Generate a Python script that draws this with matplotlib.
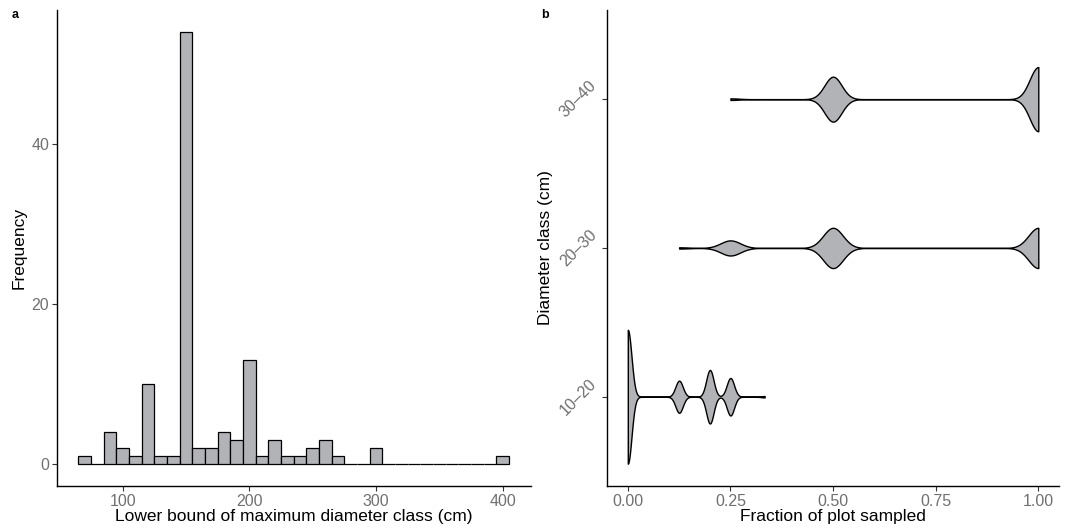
import matplotlib
matplotlib.use("Agg")
import matplotlib.pyplot as plt
import numpy as np

plt.rcParams['font.family'] = ['Liberation Sans', 'DejaVu Sans']

# panel a: histogram of lower bound of maximum diameter class (binwidth 10)
bin_centers = [70, 80, 90, 100, 110, 120, 130, 140, 150, 160, 170, 180,
               190, 200, 210, 220, 230, 240, 250, 260, 270, 280, 290, 300,
               310, 320, 330, 340, 350, 360, 370, 380, 390, 400]
freq = [1, 0, 4, 2, 1, 10, 1, 1, 54, 2, 2, 4,
        3, 13, 1, 3, 1, 1, 2, 3, 1, 0, 0, 2,
        0, 0, 0, 0, 0, 0, 0, 0, 0, 1]

# panel b: fraction of plot sampled per diameter class (value, count)
classes = ["10–20", "20–30", "30–40"]
frac_10_20 = [0.0, 0.125, 0.2, 0.25, 1/3]
n_10_20 = [100, 24, 40, 28, 1]
frac_20_30 = [0.125, 0.25, 0.5, 1.0]
n_20_30 = [1, 12, 32, 32]
frac_30_40 = [0.25, 0.5, 1.0]
n_30_40 = [1, 28, 40]
bandwidth = [0.009, 0.024, 0.021]

fill = "#b2b3b6"
txt_grey = "#707070"
tick_grey = "#333333"


def kde(vals, counts, bw, grid):
    vals = np.asarray(vals, dtype=float)
    w = np.asarray(counts, dtype=float)
    w = w / w.sum()
    d = (grid[:, None] - vals[None, :]) / bw
    return (w * np.exp(-0.5 * d ** 2)).sum(axis=1) / (bw * np.sqrt(2 * np.pi))


def style(ax):
    for s in ["top", "right"]:
        ax.spines[s].set_visible(False)
    for s in ["left", "bottom"]:
        ax.spines[s].set_linewidth(1.0)
        ax.spines[s].set_color("black")
    ax.tick_params(direction="out", length=3.5, width=0.8, color=tick_grey,
                   labelcolor=txt_grey, labelsize=11.5, pad=2)


fig = plt.figure(figsize=(10.65, 5.29), dpi=100)
ax1 = fig.add_axes([0.0533, 0.0813, 0.445, 0.899])
ax2 = fig.add_axes([0.5702, 0.0813, 0.424, 0.9])

# --- a
ax1.bar(bin_centers, freq, width=10, color=fill, edgecolor="black", linewidth=0.9)
ax1.set_xlim(48, 422)
ax1.set_ylim(-2.7, 56.7)
ax1.set_xticks([100, 200, 300, 400])
ax1.set_yticks([0, 20, 40])
ax1.set_xlabel("Lower bound of maximum diameter class (cm)", fontsize=12.5, labelpad=0)
ax1.set_ylabel("Frequency", fontsize=12.5, labelpad=3)
style(ax1)

# --- b
groups = [(frac_10_20, n_10_20), (frac_20_30, n_20_30), (frac_30_40, n_30_40)]
dens = []
for (vals, cnt), bw in zip(groups, bandwidth):
    grid = np.linspace(min(vals), max(vals), 512)
    dens.append((grid, kde(vals, cnt, bw, grid)))
dmax = max(d.max() for _, d in dens)
for i, (grid, d) in enumerate(dens):
    w = 0.45 * d / dmax
    ax2.fill_between(grid, i + 1 - w, i + 1 + w, facecolor=fill,
                     edgecolor="black", linewidth=1.0)
ax2.set_xlim(-0.05, 1.05)
ax2.set_ylim(0.4, 3.6)
ax2.set_xticks([0, 0.25, 0.5, 0.75, 1.0])
ax2.set_xticklabels(["0.00", "0.25", "0.50", "0.75", "1.00"])
ax2.set_yticks([1, 2, 3])
ax2.set_yticklabels(classes, rotation=45, ha="right", va="center")
ax2.set_xlabel("Fraction of plot sampled", fontsize=12.5, labelpad=0)
ax2.set_ylabel("Diameter class (cm)", fontsize=12.5, labelpad=3)
style(ax2)

fig.text(0.011, 0.972, "a", fontsize=9, fontweight="bold", va="center")
fig.text(0.508, 0.972, "b", fontsize=9, fontweight="bold", va="center")

fig.savefig("out.png", dpi=100)
